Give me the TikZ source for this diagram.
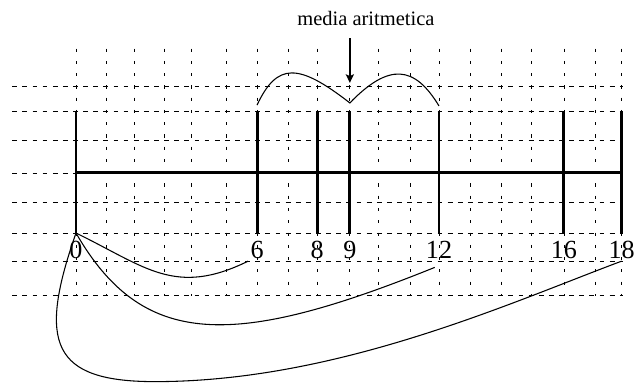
\documentclass[tikz,border=0pt]{standalone}
\usepackage{fontspec}
\setmainfont{Liberation Serif}
\usepackage{tikz}
\usetikzlibrary{arrows.meta,calc}

\begin{document}
\begin{tikzpicture}[>={Stealth[length=8pt, width=7.5pt, inset=1.5pt]},
    gridrow/.style={line width=0.7pt, dash pattern=on 4.5pt off 5pt},
    gridcol/.style={line width=0.7pt, dash pattern=on 3pt off 8.5pt},
    tickline/.style={line width=2.8pt},
    linkcurve/.style={line width=1pt},
    numlabel/.style={font=\fontsize{24.5}{28}\selectfont, inner sep=2pt}]
    \useasboundingbox (-2.506,-6.924) rectangle (18.40,5.704);

    % Dashed grid
    \foreach \y in {2.87,2.04,1.06,0,-0.96,-1.98,-2.93,-4.02}
        \draw[gridrow] (-2.1,\y) -- (18.05,\y);
    \foreach \x in {0,0.99,1.91,2.93,3.82,4.95,5.97,6.99,7.95,9.03,9.96,11.01,11.97,13.02,14.01,15.0,16.09,17.11,17.99}
        \draw[gridcol] (\x,4.1) -- (\x,-4.05);

    % Axis, ticks and numbers
    \draw[tickline] (0,0) -- (17.99,0);
    \foreach \t/\x in {0/0,6/5.97,8/7.95,9/9.03,12/11.97,16/16.09,18/17.99} {
        \draw[tickline] (\x,2.04) coordinate (top\t) -- (\x,-1.98) coordinate (bot\t);
        \node[numlabel] (n\t) at (\x,-2.54) {\t};
    }

    % Arches over 6 -- 9 -- 12
    \coordinate (a6) at (5.97,2.24);
    \coordinate (a9) at (9.03,2.31);
    \coordinate (a12) at (11.97,2.21);
    \draw[linkcurve] (a6) .. controls (6.63,3.64) and (7.32,3.64) .. (a9)
        .. controls (10.32,3.64) and (11.16,3.55) .. (a12);

    % Label and arrow
    \node[font=\fontsize{19.2}{22}\selectfont] (media) at (9.56,5.08) {media aritmetica};
    \coordinate (arrtail) at (9.03,4.45);
    \coordinate (arrtip) at (9.03,2.97);
    \draw[->, line width=1.5pt] (arrtail) -- (arrtip);

    % Curves from 0
    \draw[linkcurve] (bot0) .. controls (2.3,-3.1) and (3.27,-4.09) .. (n6.south west);
    \draw[linkcurve] (bot0) .. controls (2.2,-5.8) and (5.17,-5.8) .. ([xshift=-4pt,yshift=-6pt]n12.south);
    \draw[linkcurve] (bot0) .. controls (-1.27,-5.61) and (-0.8,-6.88) .. (2.6,-6.88)
        .. controls (8.6,-6.88) and (14.27,-4.3) .. (n18.south);
\end{tikzpicture}
\end{document}
